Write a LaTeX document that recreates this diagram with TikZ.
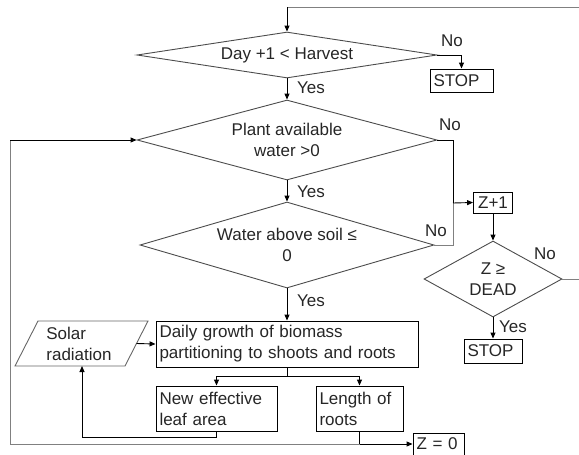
\documentclass[tikz,border=0pt]{standalone}
\usepackage{fontspec}
\setmainfont{Liberation Sans}
\usetikzlibrary{shapes.geometric,arrows.meta}
\begin{document}
\begin{tikzpicture}[x=1pt,y=-1pt,
  font=\fontsize{17pt}{21pt}\selectfont,
  every node/.style={text=black!85},
  dia/.style={shape=diamond,draw=black!70,line width=0.9pt,inner sep=0pt,align=center},
  box/.style={draw=black,line width=0.9pt,inner xsep=3.5pt,inner ysep=0pt,align=left},
  lbl/.style={inner sep=0pt},
  conn/.style={line width=0.9pt,draw=black},
  arr/.style={conn,-{Triangle[length=6pt,width=5pt]}},
  gline/.style={line width=0.9pt,draw=black!50},
]
\useasboundingbox (0,0) rectangle (579,455);

% decisions
\node[dia,aspect=6.5,minimum width=300pt,minimum height=46pt] (d1) at (287,55) {Day +1 {<} Harvest};
\node[dia,aspect=3.75,minimum width=300pt,minimum height=80pt] (d2) at (287,140) {Plant available\\water >0};
\node[dia,aspect=3.42,minimum width=294pt,minimum height=86pt] (d3) at (287,245) {Water above soil ≤\\0};
\node[dia,aspect=1.82,minimum width=138pt,minimum height=76pt] (d4) at (493,279) {Z ≥\\DEAD};

% boxes
\node[box,text width=56pt,minimum height=23pt] (stop1) at (461.5,80.5) {STOP};
\node[box,text width=35pt,minimum height=21pt,inner xsep=2pt,align=center] (z1) at (493,202.5) {Z+1};
\node[box,text width=51pt,minimum height=24pt] (stop2) at (493,351) {STOP};
\node[box,text width=255pt,minimum height=46pt] (growth) at (287,344) {Daily growth of biomass\\partitioning to shoots and roots};
\node[box,text width=114pt,minimum height=45pt] (leaf) at (216.5,408.5) {New effective\\leaf area};
\node[box,text width=80pt,minimum height=45pt] (roots) at (359.5,408.5) {Length of\\roots};
\node[box,text width=44pt,minimum height=22pt] (z0) at (438.5,444) {Z = 0};

% solar radiation (parallelogram)
\node[lbl,align=left] (solar) at (79,343.5) {Solar\\radiation};
\draw[draw=black!60,line width=0.9pt] (38,321) -- (148,321) -- (125,366) -- (15,366) -- cycle;
\coordinate (solE) at (136.5,343.5);
\coordinate (solS) at (82,366);

% labels
\node[lbl] (no1) at (452,41) {No};
\node[lbl] (yes1) at (311,88) {Yes};
\node[lbl] (no2) at (450,125) {No};
\node[lbl] (yes2) at (311,192) {Yes};
\node[lbl] (no3) at (436,231) {No};
\node[lbl] (yes3) at (311,301) {Yes};
\node[lbl] (no4) at (545,254) {No};
\node[lbl] (yes4) at (513,327) {Yes};

% connectors
\coordinate (topR) at (579,7);
\coordinate (topL) at (287,7);
\draw[gline] (topR) -- (topL);
\draw[arr] (topL) -- (d1.north);
\draw[arr] (d1.east) -| (stop1.north);
\draw[arr] (d1.south) -- (d2.north);
\draw[arr] (d2.south) -- (d3.north);
\draw[arr] (d3.south) -- (growth.north);

\coordinate (j) at (453,203);
\draw[conn] (d2.east) -| (j);
\draw[gline] (d3.east) -| (j);
\draw[arr] (j) -- (z1.west);
\draw[arr] (z1.south) -- (d4.north);
\draw[arr] (d4.south) -- (stop2.north);
\coordinate (d4R) at (579,279);
\draw[gline] (d4.east) -- (d4R);

\draw[arr] (solE) -- (growth.west);
\coordinate (split) at (287,376);
\draw[conn] (growth.south) -- (split);
\draw[arr] (split) -| (leaf.north);
\draw[arr] (split) -| (roots.north);
\coordinate (leafB) at (216.5,437);
\draw[conn] (leaf.south) -- (leafB);
\draw[arr] (leafB) -| (solS);

\coordinate (r) at (359.5,444);
\draw[conn] (roots.south) -- (r);
\draw[arr] (r) -- (z0.west);
\coordinate (loopB) at (10,444);
\coordinate (loopT) at (10,140);
\draw[gline] (r) -- (loopB) -- (loopT);
\draw[arr] (loopT) -- (d2.west);
\end{tikzpicture}
\end{document}
